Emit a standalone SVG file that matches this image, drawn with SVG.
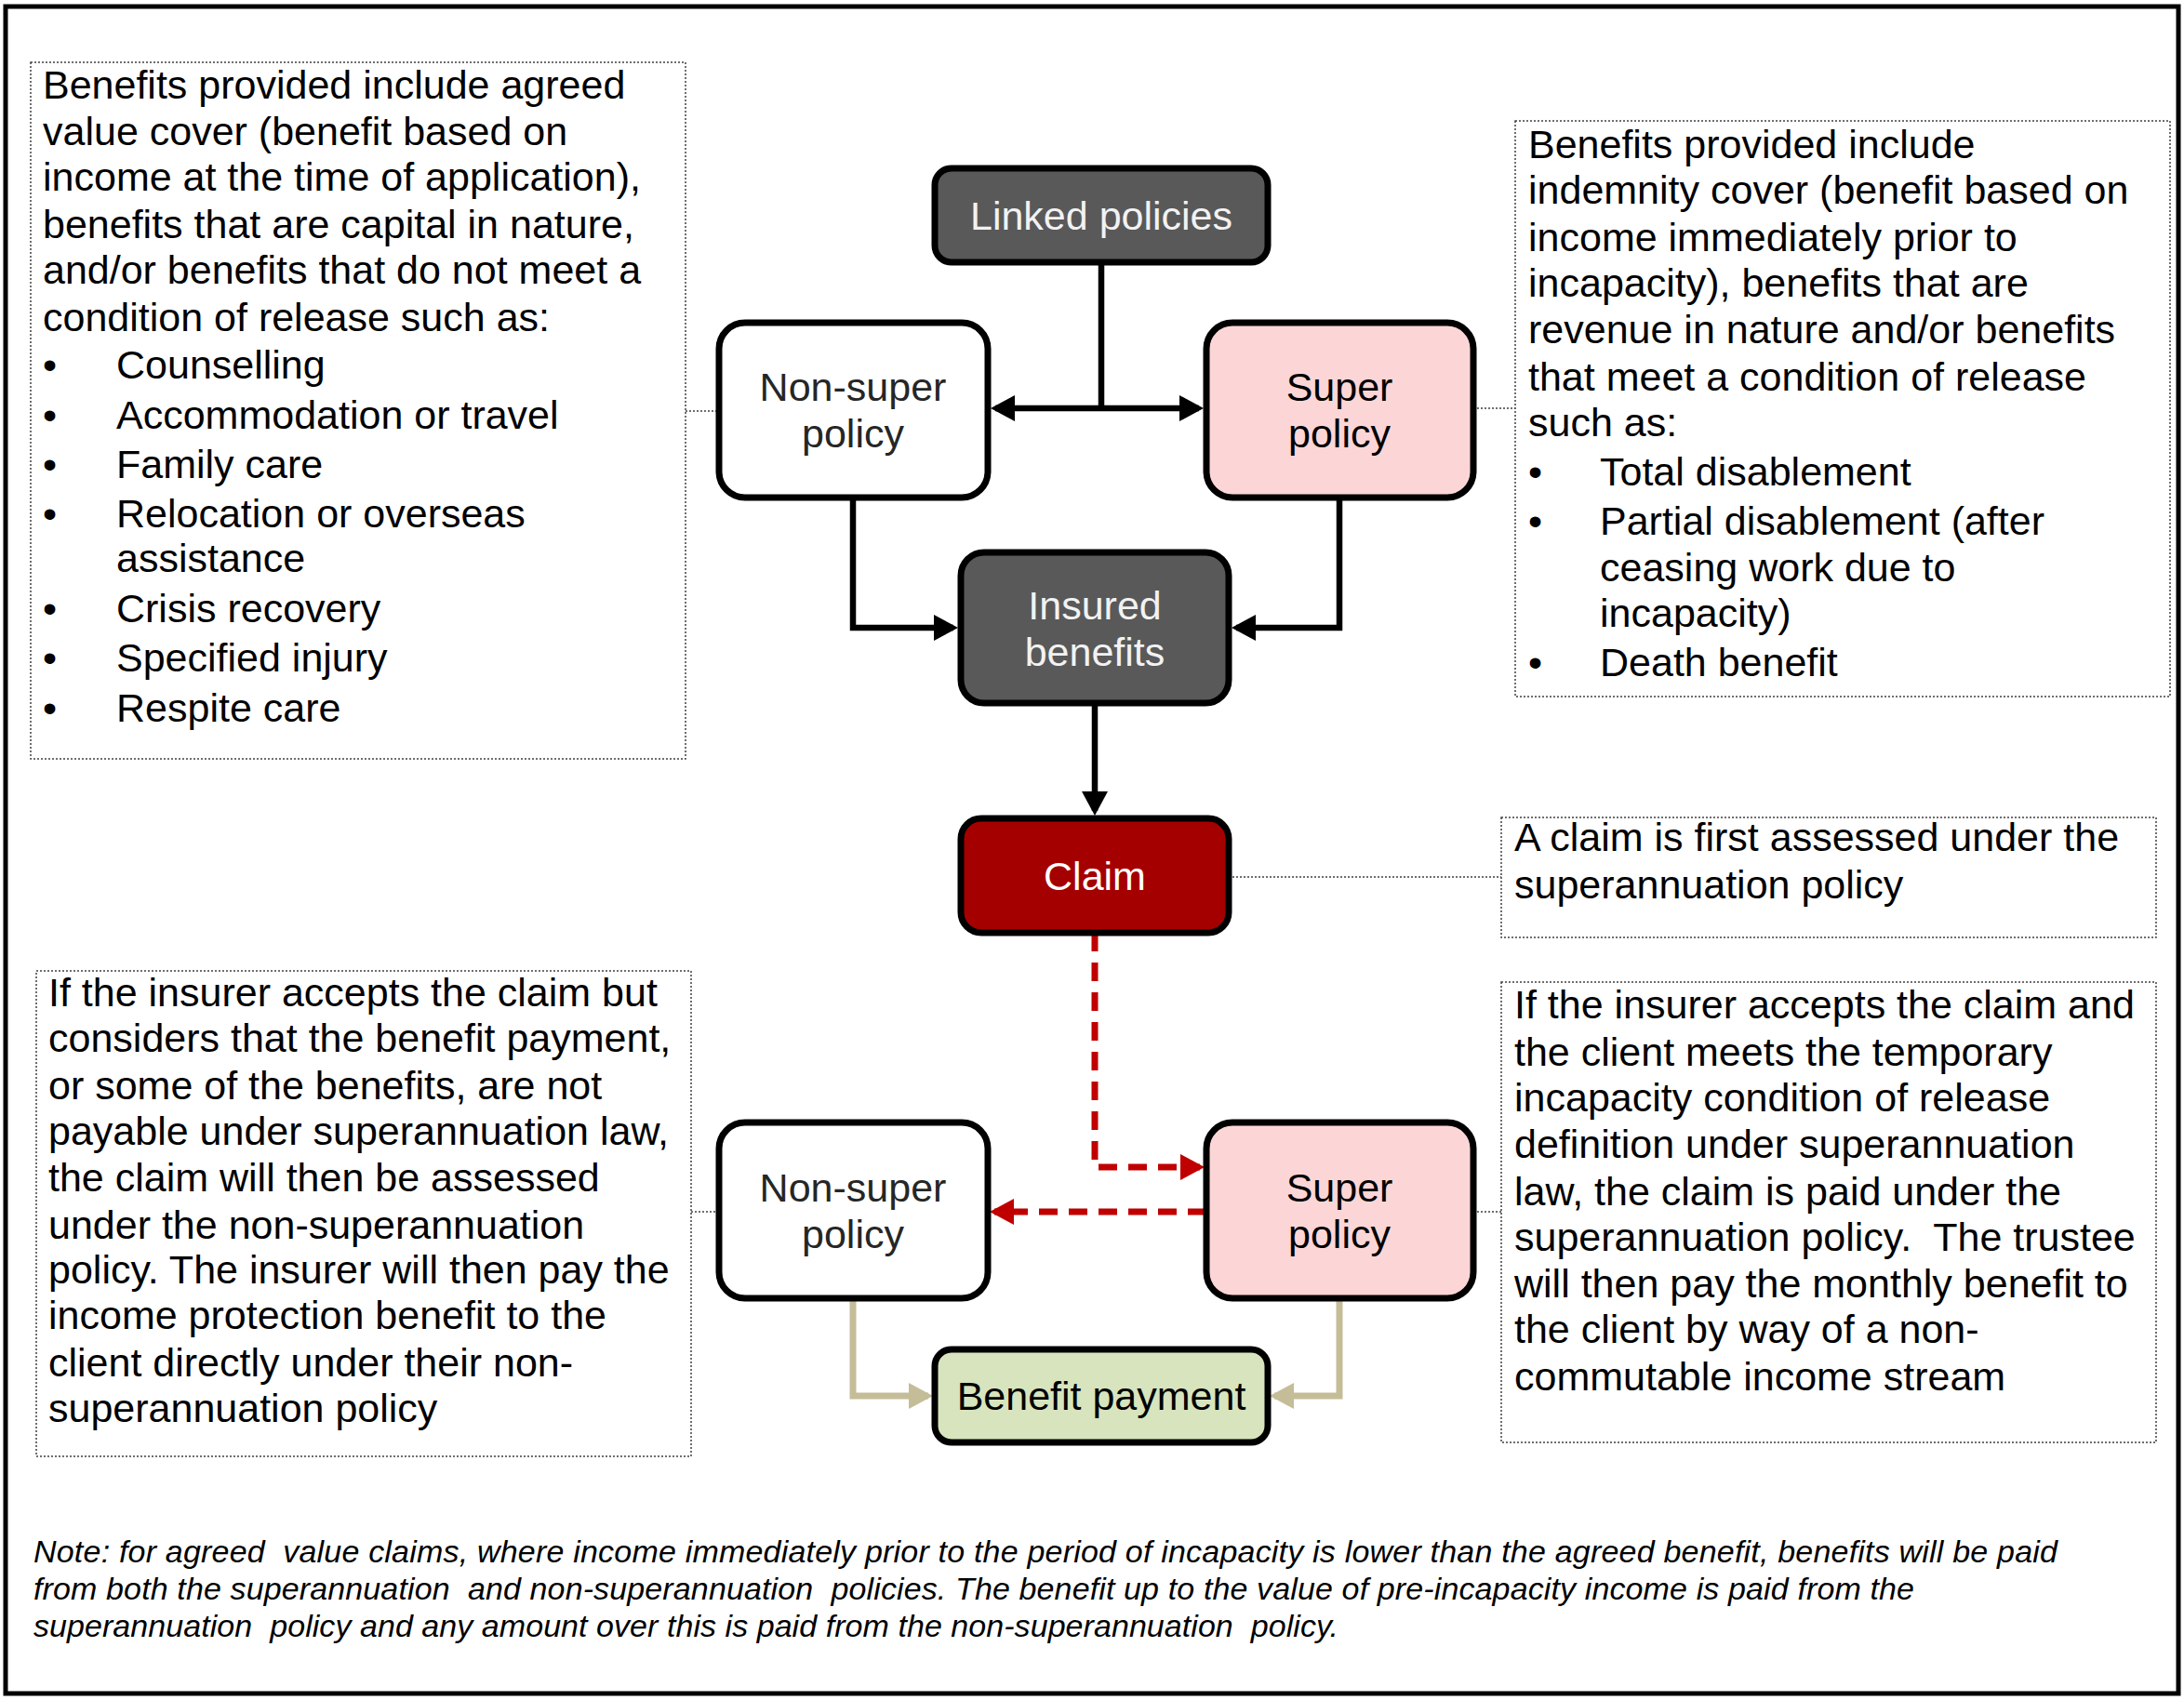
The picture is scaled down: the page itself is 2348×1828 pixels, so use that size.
<svg xmlns="http://www.w3.org/2000/svg" width="2348" height="1828" viewBox="0 0 2348 1828">
<defs>
<style>
.frame{fill:#fff;stroke:#000;stroke-width:5}
.box{fill:#fff;stroke:#404040;stroke-width:1.5;stroke-dasharray:2 2}
.lead{fill:none;stroke:#404040;stroke-width:1.5;stroke-dasharray:2 2}
.t{font-family:"Liberation Sans",Arial,sans-serif;font-size:43px;fill:#000}
.note{font-family:"Liberation Sans",Arial,sans-serif;font-size:34px;font-style:italic;fill:#000}
.node{stroke:#000;stroke-width:7}
.lbl{font-family:"Liberation Sans",Arial,sans-serif;font-size:43px;text-anchor:middle}
.k{fill:none;stroke:#000;stroke-width:6.5}
.r{fill:none;stroke:#c00000;stroke-width:7;stroke-dasharray:20 12}
.tan{fill:none;stroke:#c4bd97;stroke-width:7}
</style>
<marker id="ak" markerUnits="userSpaceOnUse" markerWidth="26" markerHeight="28" viewBox="0 0 26 28" refX="21" refY="14" orient="auto-start-reverse"><path d="M0,0 L26,14 L0,28 z" fill="#000"/></marker>
<marker id="ar" markerUnits="userSpaceOnUse" markerWidth="26" markerHeight="28" viewBox="0 0 26 28" refX="21" refY="14" orient="auto-start-reverse"><path d="M0,0 L26,14 L0,28 z" fill="#c00000"/></marker>
<marker id="at" markerUnits="userSpaceOnUse" markerWidth="26" markerHeight="28" viewBox="0 0 26 28" refX="21" refY="14" orient="auto-start-reverse"><path d="M0,0 L26,14 L0,28 z" fill="#c4bd97"/></marker>
</defs>
<rect class="frame" x="6" y="7" width="2336" height="1814"/>

<g id="leaders">
<path class="lead" d="M737,442 H773"/>
<path class="lead" d="M1584,439 H1629"/>
<path class="lead" d="M1321,943 H1614"/>
<path class="lead" d="M743,1303 H773"/>
<path class="lead" d="M1584,1303 H1614"/>
</g>

<g id="note-agreed-value">
<rect class="box" x="33" y="67" width="704" height="749"/>
<text class="t">
<tspan x="46" y="106">Benefits provided include agreed</tspan>
<tspan x="46" y="156">value cover (benefit based on</tspan>
<tspan x="46" y="205">income at the time of application),</tspan>
<tspan x="46" y="256">benefits that are capital in nature,</tspan>
<tspan x="46" y="305">and/or benefits that do not meet a</tspan>
<tspan x="46" y="356">condition of release such as:</tspan>
<tspan x="46" y="407">•</tspan><tspan x="125" y="407">Counselling</tspan>
<tspan x="46" y="461">•</tspan><tspan x="125" y="461">Accommodation or travel</tspan>
<tspan x="46" y="514">•</tspan><tspan x="125" y="514">Family care</tspan>
<tspan x="46" y="567">•</tspan><tspan x="125" y="567">Relocation or overseas</tspan>
<tspan x="125" y="615">assistance</tspan>
<tspan x="46" y="669">•</tspan><tspan x="125" y="669">Crisis recovery</tspan>
<tspan x="46" y="722">•</tspan><tspan x="125" y="722">Specified injury</tspan>
<tspan x="46" y="776">•</tspan><tspan x="125" y="776">Respite care</tspan>
</text>
</g>

<g id="note-indemnity">
<rect class="box" x="1629" y="130" width="704" height="619"/>
<text class="t">
<tspan x="1643" y="170">Benefits provided include</tspan>
<tspan x="1643" y="219">indemnity cover (benefit based on</tspan>
<tspan x="1643" y="270">income immediately prior to</tspan>
<tspan x="1643" y="319">incapacity), benefits that are</tspan>
<tspan x="1643" y="369">revenue in nature and/or benefits</tspan>
<tspan x="1643" y="420">that meet a condition of release</tspan>
<tspan x="1643" y="469">such as:</tspan>
<tspan x="1643" y="522">•</tspan><tspan x="1720" y="522">Total disablement</tspan>
<tspan x="1643" y="575">•</tspan><tspan x="1720" y="575">Partial disablement (after</tspan>
<tspan x="1720" y="625">ceasing work due to</tspan>
<tspan x="1720" y="674">incapacity)</tspan>
<tspan x="1643" y="727">•</tspan><tspan x="1720" y="727">Death benefit</tspan>
</text>
</g>

<g id="note-claim">
<rect class="box" x="1614" y="879" width="704" height="129"/>
<text class="t">
<tspan x="1628" y="915">A claim is first assessed under the</tspan>
<tspan x="1628" y="966">superannuation policy</tspan>
</text>
</g>

<g id="note-super-paid">
<rect class="box" x="1614" y="1056" width="704" height="495"/>
<text class="t" xml:space="preserve"><tspan x="1628" y="1095">If the insurer accepts the claim and</tspan><tspan x="1628" y="1146">the client meets the temporary</tspan><tspan x="1628" y="1195">incapacity condition of release</tspan><tspan x="1628" y="1245">definition under superannuation</tspan><tspan x="1628" y="1296">law, the claim is paid under the</tspan><tspan x="1628" y="1345">superannuation policy.  The trustee</tspan><tspan x="1628" y="1395">will then pay the monthly benefit to</tspan><tspan x="1628" y="1444">the client by way of a non-</tspan><tspan x="1628" y="1495">commutable income stream</tspan></text>
</g>

<g id="note-nonsuper-paid">
<rect class="box" x="39" y="1044" width="704" height="522"/>
<text class="t">
<tspan x="52" y="1082">If the insurer accepts the claim but</tspan>
<tspan x="52" y="1131">considers that the benefit payment,</tspan>
<tspan x="52" y="1182">or some of the benefits, are not</tspan>
<tspan x="52" y="1231">payable under superannuation law,</tspan>
<tspan x="52" y="1281">the claim will then be assessed</tspan>
<tspan x="52" y="1332">under the non-superannuation</tspan>
<tspan x="52" y="1380">policy. The insurer will then pay the</tspan>
<tspan x="52" y="1429">income protection benefit to the</tspan>
<tspan x="52" y="1480">client directly under their non-</tspan>
<tspan x="52" y="1529">superannuation policy</tspan>
</text>
</g>

<g id="connectors">
<path class="k" d="M1184,282 V439"/>
<path class="k" d="M1070,439 H1289" marker-start="url(#ak)" marker-end="url(#ak)"/>
<path class="k" d="M917,535 V675 H1025" marker-end="url(#ak)"/>
<path class="k" d="M1440,535 V675 H1329" marker-end="url(#ak)"/>
<path class="k" d="M1177,756 V872" marker-end="url(#ak)"/>
<path class="r" d="M1177,1003 V1255 H1290" marker-end="url(#ar)"/>
<path class="r" d="M1297,1303 H1069" marker-end="url(#ar)"/>
<path class="tan" d="M917,1396 V1501 H998" marker-end="url(#at)"/>
<path class="tan" d="M1440,1396 V1501 H1370" marker-end="url(#at)"/>
</g>

<g id="linked-policies">
<rect class="node" x="1005" y="181" width="358" height="101" rx="18" fill="#595959"/>
<text class="lbl" x="1184" y="247" fill="#f2f2f2">Linked policies</text>
</g>
<g id="non-super-policy-1">
<rect class="node" x="773" y="347" width="289" height="188" rx="28" fill="#fff"/>
<text class="lbl" fill="#262626"><tspan x="917" y="431">Non-super</tspan><tspan x="917" y="481">policy</tspan></text>
</g>
<g id="super-policy-1">
<rect class="node" x="1297" y="347" width="287" height="188" rx="28" fill="#fcd6d6"/>
<text class="lbl" fill="#000"><tspan x="1440" y="431">Super</tspan><tspan x="1440" y="481">policy</tspan></text>
</g>
<g id="insured-benefits">
<rect class="node" x="1033" y="594" width="288" height="162" rx="25" fill="#595959"/>
<text class="lbl" fill="#f2f2f2"><tspan x="1177" y="666">Insured</tspan><tspan x="1177" y="716">benefits</tspan></text>
</g>
<g id="claim">
<rect class="node" x="1033" y="880" width="288" height="123" rx="22" fill="#a50000"/>
<text class="lbl" x="1177" y="957" fill="#fff">Claim</text>
</g>
<g id="non-super-policy-2">
<rect class="node" x="773" y="1207" width="289" height="189" rx="28" fill="#fff"/>
<text class="lbl" fill="#262626"><tspan x="917" y="1292">Non-super</tspan><tspan x="917" y="1342">policy</tspan></text>
</g>
<g id="super-policy-2">
<rect class="node" x="1297" y="1207" width="287" height="189" rx="28" fill="#fcd6d6"/>
<text class="lbl" fill="#000"><tspan x="1440" y="1292">Super</tspan><tspan x="1440" y="1342">policy</tspan></text>
</g>
<g id="benefit-payment">
<rect class="node" x="1005" y="1451" width="358" height="100" rx="18" fill="#d7e4bd"/>
<text class="lbl" x="1184" y="1516" fill="#000">Benefit payment</text>
</g>

<g id="footnote">
<text class="note" xml:space="preserve"><tspan x="36" y="1680" textLength="2176" lengthAdjust="spacing">Note: for agreed  value claims, where income immediately prior to the period of incapacity is lower than the agreed benefit, benefits will be paid</tspan><tspan x="36" y="1720" textLength="2022" lengthAdjust="spacing">from both the superannuation  and non-superannuation  policies. The benefit up to the value of pre-incapacity income is paid from the</tspan><tspan x="36" y="1760" textLength="1403" lengthAdjust="spacing">superannuation  policy and any amount over this is paid from the non-superannuation  policy.</tspan></text>
</g>
</svg>
